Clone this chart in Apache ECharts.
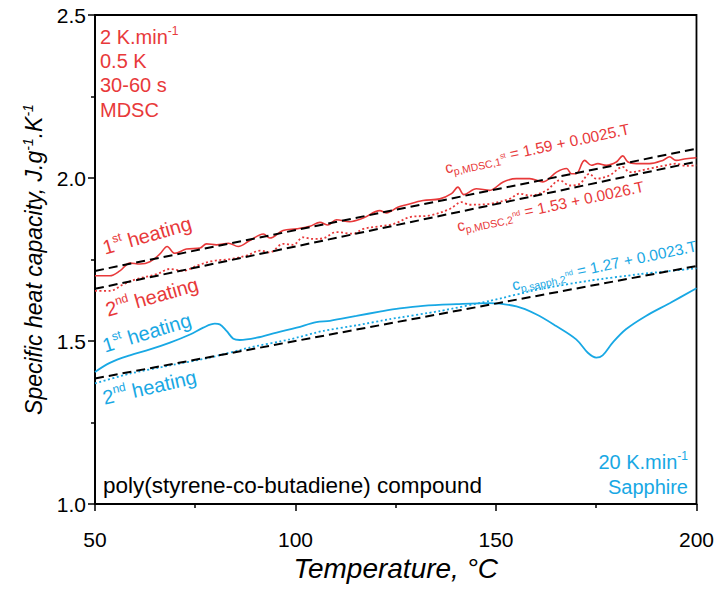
<!DOCTYPE html>
<html><head><meta charset="utf-8">
<script src="https://cdn.jsdelivr.net/npm/echarts@6/dist/echarts.min.js"></script>
<style>html,body{margin:0;padding:0;background:#fff}#c{width:717px;height:590px}</style>
</head><body><div id="c"></div>
<script>
// ---- data ----
const xTicks = [50, 100, 150, 200];
const yTicks = [1.0, 1.5, 2.0, 2.5];
// MDSC 1st heating (solid red)
const mdsc1 = [[50,1.700],[53.7,1.700],[56.2,1.715],[58.7,1.739],[61.2,1.736],[63.7,1.743],[66.2,1.767],[68.0,1.790],[69.9,1.769],[72.8,1.782],[76.2,1.785],[77.8,1.798],[80.3,1.795],[83.3,1.800],[85.7,1.790],[88.6,1.808],[92.0,1.828],[93.6,1.816],[96.9,1.839],[100.3,1.844],[103.6,1.852],[106.1,1.864],[108.1,1.856],[110.2,1.872],[113.5,1.866],[116.9,1.877],[121.0,1.900],[122.7,1.893],[125.5,1.910],[127.7,1.918],[131.8,1.931],[136.0,1.936],[138.9,1.952],[140.5,1.972],[142.0,1.949],[145.1,1.967],[148.4,1.962],[151.8,1.988],[155.1,1.998],[158.4,1.998],[161.7,1.988],[165.1,2.018],[167.6,2.029],[168.8,2.013],[170.0,2.013],[172.1,2.054],[173.8,2.039],[175.4,2.044],[177.5,2.039],[180.0,2.049],[181.6,2.068],[182.9,2.049],[185.0,2.044],[188.3,2.044],[191.6,2.054],[193.3,2.065],[194.9,2.054],[197.4,2.059],[200,2.062]];
// MDSC 2nd heating (dotted red)
const mdsc2 = [[50,1.654],[53.7,1.654],[57.1,1.674],[60.4,1.690],[65.4,1.705],[68.7,1.721],[72.0,1.715],[75.4,1.731],[79.5,1.746],[83.7,1.751],[87.8,1.762],[91.2,1.777],[93.6,1.772],[96.9,1.798],[99.4,1.795],[101.9,1.818],[104.4,1.813],[106.9,1.815],[110.2,1.834],[114.4,1.829],[116.9,1.844],[121.0,1.852],[124.5,1.859],[128.5,1.880],[133.5,1.885],[138.5,1.905],[141.4,1.926],[143.4,1.918],[148.4,1.921],[153.4,1.936],[155.9,1.952],[158.4,1.946],[162.6,1.962],[165.9,1.993],[168.4,1.977],[170.9,1.982],[173.3,2.013],[175.0,1.998],[178.3,2.008],[181.6,2.034],[183.3,2.018],[188.3,2.029],[192.4,2.039],[194.9,2.044],[197.4,2.037],[200,2.039]];
// Sapphire 1st heating (solid blue)
const sapph1 = [[50,1.405],[53.7,1.433],[58.7,1.456],[63.7,1.474],[68.7,1.495],[73.7,1.520],[77.0,1.541],[79.9,1.553],[81.1,1.551],[82.8,1.531],[84.5,1.507],[86.1,1.503],[90.3,1.510],[95.3,1.526],[100.3,1.541],[105.2,1.558],[108.6,1.562],[115.2,1.577],[121.0,1.590],[126.0,1.600],[131.8,1.608],[140.1,1.613],[148.4,1.616],[155.1,1.606],[160.0,1.582],[165.0,1.546],[170.0,1.505],[172.9,1.464],[175.0,1.449],[176.6,1.456],[179.1,1.495],[182.4,1.536],[187.4,1.577],[193.3,1.616],[200,1.662]];
// Sapphire 2nd heating (dotted blue)
const sapph2 = [[50,1.370],[58.7,1.400],[68.7,1.425],[78.7,1.449],[88.6,1.480],[98.6,1.505],[106.9,1.531],[115.2,1.548],[123.5,1.567],[136,1.592],[148.4,1.623],[160.9,1.659],[173.3,1.685],[185.8,1.705],[200,1.723]];
// linear fits (dashed black)
const fitMdsc1 = [[50,1.715],[200,2.090]];
const fitMdsc2 = [[50,1.660],[200,2.050]];
const fitSapph2 = [[50,1.385],[200,1.730]];

const RED = '#e8393a', BLUE = '#18a8e4';
const FF = "'Liberation Sans', Arial, Helvetica, sans-serif";

const chart = echarts.init(document.getElementById('c'), null, {renderer: 'svg'});

function txt(x, y, rotDeg, text, rich, color, align) {
  return {
    type: 'text', x: x, y: y, rotation: rotDeg * Math.PI / 180, z: 100,
    style: { text: text, rich: rich, fill: color, font: '18px ' + FF,
             textAlign: align || 'left', textVerticalAlign: 'middle' }
  };
}
const heatRich = (c) => ({
  m: {fontSize: 20, fontFamily: FF, lineHeight: 24, fill: c},
  s: {fontSize: 12, fontFamily: FF, lineHeight: 14, verticalAlign: 'top', fill: c}
});
const formRich = (c) => ({
  m: {fontSize: 15.5, fontFamily: FF, lineHeight: 22, fill: c},
  b: {fontSize: 10.5, fontFamily: FF, lineHeight: 12, verticalAlign: 'bottom', fill: c},
  p: {fontSize: 7.5, fontFamily: FF, lineHeight: 8, fill: c}
});
const infoRich = (c, fs) => ({
  m: {fontSize: fs || 20, fontFamily: FF, lineHeight: 24, fill: c},
  s: {fontSize: 12, fontFamily: FF, lineHeight: 12, verticalAlign: 'top', fill: c}
});

function lineSeries(data, color, type, width, smooth) {
  return {
    type: 'line', data: data, showSymbol: false, symbol: 'none', smooth: smooth,
    lineStyle: {color: color, width: width, type: type}, silent: true, animation: false
  };
}

chart.setOption({
  animation: false,
  grid: {left: 95, right: 20, top: 15, bottom: 86, show: true, borderColor: '#000', borderWidth: 1.8, backgroundColor: 'transparent'},
  xAxis: {
    type: 'value', min: xTicks[0], max: xTicks[xTicks.length - 1], interval: 50,
    axisLine: {show: true, onZero: false, lineStyle: {color: '#000', width: 1.8}},
    axisTick: {show: true, inside: false, length: 7, lineStyle: {color: '#000', width: 1.5}},
    minorTick: {show: true, splitNumber: 2, length: 4, lineStyle: {color: '#000', width: 1.5}},
    splitLine: {show: false},
    axisLabel: {color: '#000', fontSize: 21, fontFamily: FF, margin: 25},
    name: 'Temperature, °C', nameLocation: 'middle', nameGap: 49,
    nameTextStyle: {color: '#000', fontSize: 28, fontStyle: 'italic', fontFamily: FF}
  },
  yAxis: {
    type: 'value', min: yTicks[0], max: yTicks[yTicks.length - 1], interval: 0.5,
    axisLine: {show: true, onZero: false, lineStyle: {color: '#000', width: 1.8}},
    axisTick: {show: true, inside: false, length: 7, lineStyle: {color: '#000', width: 1.5}},
    minorTick: {show: true, splitNumber: 2, length: 4, lineStyle: {color: '#000', width: 1.5}},
    splitLine: {show: false},
    axisLabel: {color: '#000', fontSize: 21, fontFamily: FF, margin: 9, formatter: (v) => v.toFixed(1)},
    name: '{t|Specific heat capacity, J.g}{s|-1}{t|.K}{s|-1}', nameLocation: 'middle', nameGap: 47,
    nameTextStyle: {color: '#000', rich: {
      t: {fontSize: 23, fontStyle: 'italic', fontFamily: FF, lineHeight: 27},
      s: {fontSize: 14, fontStyle: 'italic', fontFamily: FF, lineHeight: 14, verticalAlign: 'top'}
    }}
  },
  series: [
    lineSeries(mdsc1, RED, 'solid', 1.6, 0.35),
    lineSeries(mdsc2, RED, [2, 2.5], 1.8, 0.35),
    lineSeries(sapph1, BLUE, 'solid', 1.8, 0.35),
    lineSeries(sapph2, BLUE, [2, 2.5], 1.8, 0.2),
    lineSeries(fitMdsc1, '#000', [9, 5], 2, false),
    lineSeries(fitMdsc2, '#000', [9, 5], 2, false),
    lineSeries(fitSapph2, '#000', [9, 5], 2, false)
  ],
  graphic: [
    txt(100, 36.5, 0, '{m|2 K.min}{s|-1}', infoRich(RED), RED),
    txt(100, 60.5, 0, '{m|0.5 K}', infoRich(RED), RED),
    txt(100, 85, 0, '{m|30-60 s}', infoRich(RED), RED),
    txt(100, 110, 0, '{m|MDSC}', infoRich(RED), RED),
    txt(103, 485.5, 0, '{m|poly(styrene-co-butadiene) compound}', infoRich('#000', 22.5), '#000'),
    txt(688, 462, 0, '{m|20 K.min}{s|-1}', infoRich(BLUE), BLUE, 'right'),
    txt(688, 487, 0, '{m|Sapphire}', infoRich(BLUE), BLUE, 'right'),
    txt(103, 248, 16, '{m|1}{s|st}{m| heating}', heatRich(RED), RED),
    txt(106, 310, 16, '{m|2}{s|nd}{m| heating}', heatRich(RED), RED),
    txt(103, 346, 17, '{m|1}{s|st}{m| heating}', heatRich(BLUE), BLUE),
    txt(103, 398, 13, '{m|2}{s|nd}{m| heating}', heatRich(BLUE), BLUE),
    txt(445, 168, 12, '{m|c}{b|p,MDSC,1}{p|st}{m| = 1.59 + 0.0025.T}', formRich(RED), RED),
    txt(457, 226, 12, '{m|c}{b|p,MDSC,2}{p|nd}{m| = 1.53 + 0.0026.T}', formRich(RED), RED),
    txt(512, 285, 12, '{m|c}{b|p,sapph,2}{p|nd}{m| = 1.27 + 0.0023.T}', formRich(BLUE), BLUE)
  ]
});
</script></body></html>
